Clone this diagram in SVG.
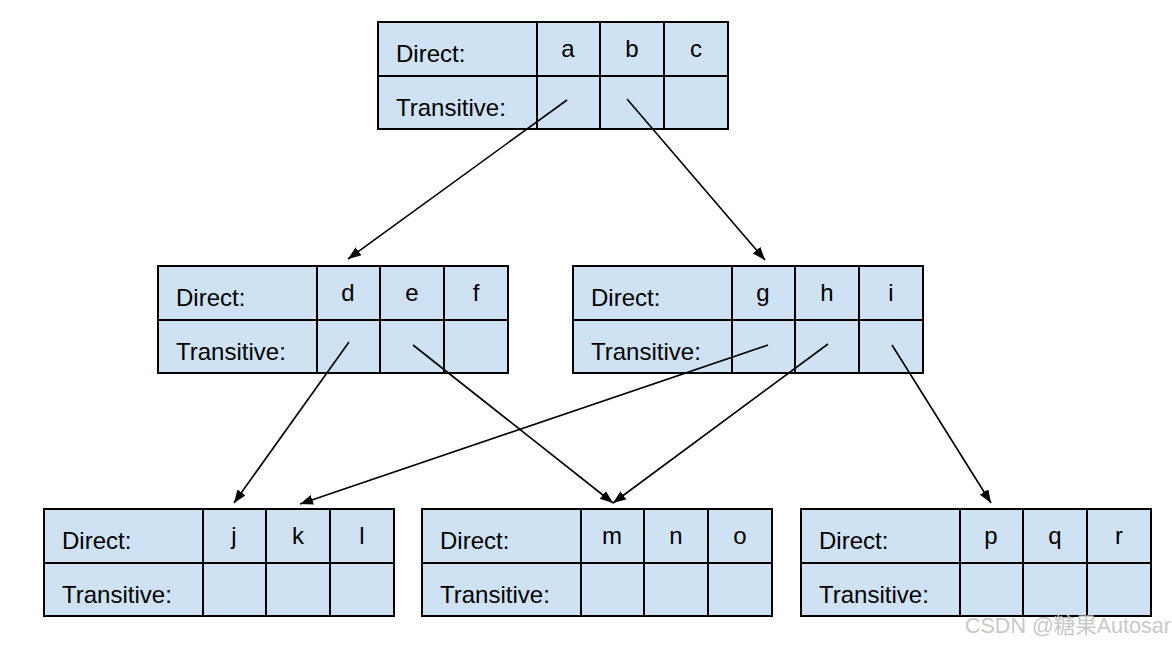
<svg xmlns="http://www.w3.org/2000/svg" width="1172" height="646" viewBox="0 0 1172 646">
<style>
.box{fill:#cfe2f3;stroke:#000;stroke-width:2}
.ln{stroke:#000;stroke-width:2}
.t{font-family:"Liberation Sans",Arial,sans-serif;font-size:24px;fill:#000}
.c{text-anchor:middle}
.conn{stroke:#000;stroke-width:1.6;fill:none;marker-end:url(#ah)}
.wm{font-family:"Liberation Sans","Noto Sans CJK SC",sans-serif;font-size:21.5px;fill:#c8c8c8}
</style>
<defs>
<marker id="ah" markerUnits="userSpaceOnUse" markerWidth="14" markerHeight="12" refX="13" refY="5" orient="auto">
<path d="M0,0 L13,5 L0,10 z" fill="#000"/>
</marker>
<g id="tpl">
<rect class="box" x="0" y="0" width="350" height="107"/>
<line class="ln" x1="0" y1="54" x2="350" y2="54"/>
<line class="ln" x1="159" y1="0" x2="159" y2="107"/>
<line class="ln" x1="222" y1="0" x2="222" y2="107"/>
<line class="ln" x1="286" y1="0" x2="286" y2="107"/>
<text class="t" x="18" y="40">Direct:</text>
<text class="t" x="18" y="94">Transitive:</text>
</g>
</defs>
<rect width="1172" height="646" fill="#fff"/>
<g id="node-abc" transform="translate(378,22)">
<use href="#tpl"/>
<text class="t c" x="190" y="35">a</text><text class="t c" x="254" y="35">b</text><text class="t c" x="318" y="35">c</text>
</g>
<g id="node-def" transform="translate(158,266)">
<use href="#tpl"/>
<text class="t c" x="190" y="35">d</text><text class="t c" x="254" y="35">e</text><text class="t c" x="318" y="35">f</text>
</g>
<g id="node-ghi" transform="translate(573,266)">
<use href="#tpl"/>
<text class="t c" x="190" y="35">g</text><text class="t c" x="254" y="35">h</text><text class="t c" x="318" y="35">i</text>
</g>
<g id="node-jkl" transform="translate(44,509)">
<use href="#tpl"/>
<text class="t c" x="190" y="35">j</text><text class="t c" x="254" y="35">k</text><text class="t c" x="318" y="35">l</text>
</g>
<g id="node-mno" transform="translate(422,509)">
<use href="#tpl"/>
<text class="t c" x="190" y="35">m</text><text class="t c" x="254" y="35">n</text><text class="t c" x="318" y="35">o</text>
</g>
<g id="node-pqr" transform="translate(801,509)">
<use href="#tpl"/>
<text class="t c" x="190" y="35">p</text><text class="t c" x="254" y="35">q</text><text class="t c" x="318" y="35">r</text>
</g>
<g id="connectors">
<line class="conn" x1="567" y1="100" x2="348" y2="259"/>
<line class="conn" x1="627" y1="99" x2="765" y2="260"/>
<line class="conn" x1="349" y1="342" x2="234" y2="503"/>
<line class="conn" x1="413" y1="345" x2="613" y2="503"/>
<line class="conn" x1="768" y1="345" x2="300" y2="504"/>
<line class="conn" x1="828" y1="344" x2="613" y2="503"/>
<line class="conn" x1="892" y1="345" x2="991" y2="503"/>
</g>
<text class="wm" x="965" y="633">CSDN @糖果Autosar</text>
</svg>
